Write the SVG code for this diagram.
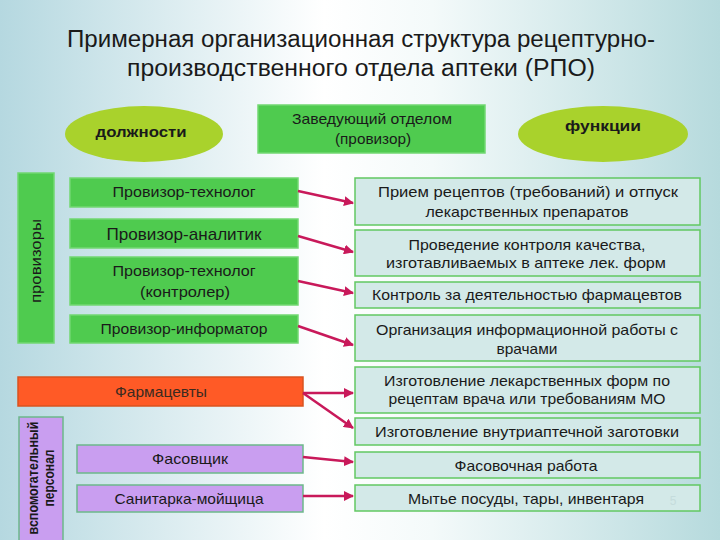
<svg xmlns="http://www.w3.org/2000/svg" width="720" height="540" viewBox="0 0 720 540">
<defs>
<linearGradient id="bg" x1="0" y1="0" x2="1" y2="0">
<stop offset="0" stop-color="#b5d8e0"/>
<stop offset="0.45" stop-color="#ffffff"/>
<stop offset="0.6" stop-color="#f4fafa"/>
<stop offset="1" stop-color="#b6dadd"/>
</linearGradient>
<marker id="ah" viewBox="0 0 10 10" refX="9" refY="5" markerWidth="4" markerHeight="4" orient="auto" markerUnits="strokeWidth">
<path d="M0,0 L10,5 L0,10 z" fill="#c8195a"/>
</marker>
<style>
text{font-family:"Liberation Sans",Arial,sans-serif;fill:#1a1a1a;text-anchor:middle}
.g{fill:#4fcb4f;stroke:#72d872;stroke-width:1.5}
.f{fill:#d3e9e8;stroke:#62c862;stroke-width:1.5}
.l{fill:#c99ef0;stroke:#6cb88a;stroke-width:1.5}
.e{fill:#a9d22c}
.t{font-size:15px}
.r{font-size:15px}
.b{font-weight:bold;font-size:15px}
.c line{stroke:#c8195a;stroke-width:2.5;marker-end:url(#ah)}
</style>
</defs>
<rect width="720" height="540" fill="url(#bg)"/>
<g id="title">
<text x="361" y="47" font-size="23" textLength="588" lengthAdjust="spacingAndGlyphs">Примерная организационная структура рецептурно-</text>
<text x="361" y="76" font-size="23" textLength="468" lengthAdjust="spacingAndGlyphs">производственного отдела аптеки (РПО)</text>
</g>
<g id="n-dolzhnosti"><ellipse class="e" cx="144" cy="134" rx="79" ry="28"/><text class="b" x="141" y="137" textLength="91" lengthAdjust="spacingAndGlyphs">должности</text></g>
<g id="n-funkcii"><ellipse class="e" cx="603" cy="134" rx="85" ry="28"/><text class="b" x="603" y="131" textLength="76" lengthAdjust="spacingAndGlyphs">функции</text></g>
<g id="n-head"><rect class="g" x="258" y="105" width="227" height="48"/><text class="r" x="372" y="124" textLength="160" lengthAdjust="spacingAndGlyphs">Заведующий отделом</text><text class="r" x="373" y="144" textLength="76" lengthAdjust="spacingAndGlyphs">(провизор)</text></g>
<g id="n-provizory"><rect class="g" x="18" y="173" width="36" height="170"/><text class="t" transform="translate(41,261) rotate(-90)" textLength="84" lengthAdjust="spacingAndGlyphs">провизоры</text></g>
<g id="n-p1"><rect class="g" x="70" y="178" width="228" height="29"/><text class="t" x="184" y="197" textLength="143" lengthAdjust="spacingAndGlyphs">Провизор-технолог</text></g>
<g id="n-p2"><rect class="g" x="70" y="219" width="228" height="29"/><text x="184" y="240" font-size="17" textLength="155" lengthAdjust="spacingAndGlyphs">Провизор-аналитик</text></g>
<g id="n-p3"><rect class="g" x="70" y="257" width="228" height="48"/><text class="t" x="184" y="276" textLength="143" lengthAdjust="spacingAndGlyphs">Провизор-технолог</text><text class="t" x="185" y="297" textLength="90" lengthAdjust="spacingAndGlyphs">(контролер)</text></g>
<g id="n-p4"><rect class="g" x="70" y="315" width="228" height="28"/><text class="t" x="184" y="334" textLength="167" lengthAdjust="spacingAndGlyphs">Провизор-информатор</text></g>
<g id="n-farm"><rect x="18" y="377" width="285" height="29" fill="#ff5a26" stroke="#d9531f" stroke-width="1.5"/><text x="161" y="397" font-size="15" fill="#3a2a20" style="fill:#3a2a20" textLength="92" lengthAdjust="spacingAndGlyphs">Фармацевты</text></g>
<g id="n-vspom"><rect class="l" x="19" y="417" width="44" height="125" stroke="#5fd25f"/><text class="b" font-size="12.5" transform="translate(38,478) rotate(-90)" textLength="113" lengthAdjust="spacingAndGlyphs">вспомогательный</text><text class="b" font-size="12.5" transform="translate(54,478) rotate(-90)" textLength="57" lengthAdjust="spacingAndGlyphs">персонал</text></g>
<g id="n-fas"><rect class="l" x="77" y="445" width="226" height="28"/><text class="t" x="190" y="464" textLength="76" lengthAdjust="spacingAndGlyphs">Фасовщик</text></g>
<g id="n-san"><rect class="l" x="77" y="485" width="226" height="27"/><text class="t" x="189" y="504" textLength="149" lengthAdjust="spacingAndGlyphs">Санитарка-мойщица</text></g>
<g id="f1"><rect class="f" x="355" y="178" width="345" height="47"/><text class="r" x="528" y="197" textLength="300" lengthAdjust="spacingAndGlyphs">Прием рецептов (требований)  и  отпуск</text><text class="r" x="527" y="217" textLength="203" lengthAdjust="spacingAndGlyphs">лекарственных препаратов</text></g>
<g id="f2"><rect class="f" x="355" y="230" width="345" height="46"/><text class="r" x="527" y="250" textLength="237" lengthAdjust="spacingAndGlyphs">Проведение контроля качества,</text><text class="r" x="526" y="268" textLength="280" lengthAdjust="spacingAndGlyphs">изготавливаемых в аптеке лек. форм</text></g>
<g id="f3"><rect class="f" x="355" y="282" width="345" height="26"/><text class="r" x="527" y="300" textLength="310" lengthAdjust="spacingAndGlyphs">Контроль за деятельностью фармацевтов</text></g>
<g id="f4"><rect class="f" x="355" y="315" width="345" height="46"/><text class="r" x="527" y="335" textLength="302" lengthAdjust="spacingAndGlyphs">Организация информационной работы с</text><text class="r" x="527" y="354" textLength="61" lengthAdjust="spacingAndGlyphs">врачами</text></g>
<g id="f5"><rect class="f" x="355" y="367" width="345" height="46"/><text class="r" x="527" y="386" textLength="286" lengthAdjust="spacingAndGlyphs">Изготовление лекарственных форм по</text><text class="r" x="527" y="404" textLength="277" lengthAdjust="spacingAndGlyphs">рецептам врача или требованиям МО</text></g>
<g id="f6"><rect class="f" x="355" y="418" width="345" height="27"/><text class="r" x="527" y="437" textLength="304" lengthAdjust="spacingAndGlyphs">Изготовление внутриаптечной заготовки</text></g>
<g id="f7"><rect class="f" x="355" y="452" width="345" height="26"/><text class="r" x="526" y="471" textLength="143" lengthAdjust="spacingAndGlyphs">Фасовочная работа</text></g>
<g id="f8"><rect class="f" x="355" y="485" width="345" height="26"/><text class="r" x="526" y="504" textLength="236" lengthAdjust="spacingAndGlyphs">Мытье посуды, тары, инвентаря</text></g>
<text x="673" y="505" font-size="12" style="fill:#c5dcdc">5</text>
<g id="connectors" class="c">
<line x1="298" y1="191" x2="353" y2="203"/>
<line x1="298" y1="236" x2="353" y2="252"/>
<line x1="298" y1="281" x2="353" y2="293"/>
<line x1="298" y1="326" x2="353" y2="345"/>
<line x1="303" y1="393" x2="353" y2="393"/>
<line x1="303" y1="393" x2="353" y2="428"/>
<line x1="303" y1="457" x2="353" y2="462"/>
<line x1="303" y1="496" x2="353" y2="496"/>
</g>
</svg>
